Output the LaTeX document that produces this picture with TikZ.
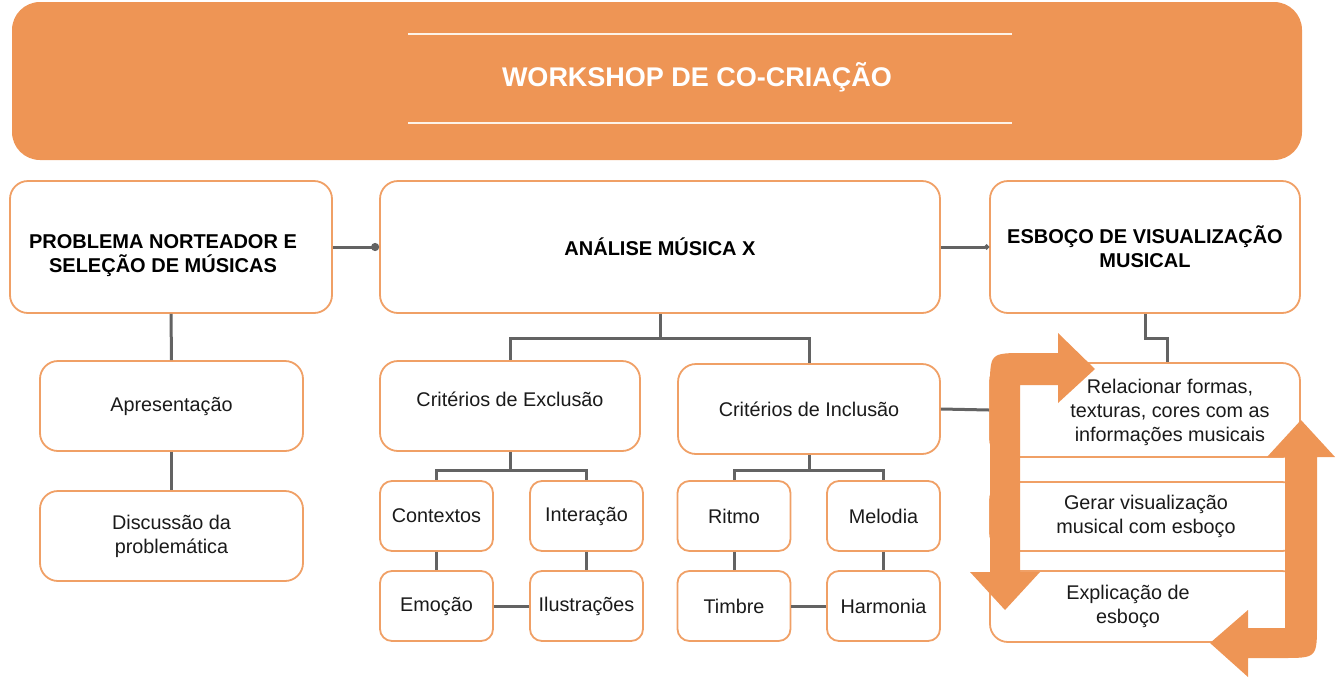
\documentclass[tikz,border=0pt]{standalone}
\usepackage{fontspec}
\setmainfont{Liberation Sans}
\usetikzlibrary{arrows.meta}
\definecolor{orA}{HTML}{EE9555}
\definecolor{boxor}{HTML}{F0A066}
\definecolor{gray6}{HTML}{636363}
\definecolor{txt}{HTML}{1A1A1A}
\definecolor{offw}{HTML}{FDF3E8}
\tikzset{
  regfont/.style={font=\fontsize{19.8}{24}\selectfont},
  box/.style={draw=boxor, line width=1.8pt, fill=white, rounded corners=18pt, align=center, inner sep=0pt, text=txt, regfont},
  sbox/.style={box, rounded corners=12pt, minimum width=113pt, minimum height=70pt},
  mbox/.style={box, minimum height=90pt},
  headfont/.style={font=\fontsize{20}{24}\selectfont\bfseries},
  head/.style={box, text=black, headfont, minimum height=132pt},
  pbox/.style={box, minimum width=310pt},
  lbl/.style={align=center, text=txt, regfont},
  conn/.style={draw=gray6, line width=3pt},
  bigarrow/.style={fill=orA, draw=none},
  deco/.style={draw=offw, line width=1.5pt},
}
\begin{document}
\begin{tikzpicture}[x=1pt, y=-1pt]
\useasboundingbox (0,0) rectangle (1336,678);
% title
\node[fill=orA, rounded corners=28pt, minimum width=1290pt, minimum height=158pt, inner sep=0pt,
  label={[xshift=40pt, yshift=4pt, text=white, font=\fontsize{27}{30}\selectfont\bfseries]center:WORKSHOP DE CO-CRIAÇÃO}] (title) at (657,81) {};
\draw[deco] (408,34) -- (1012,34);
\draw[deco] (408,123) -- (1012,123);
% top row
\node[head, minimum width=322pt, label={[xshift=-8pt, yshift=-9pt, align=center, text=black, headfont]center:PROBLEMA NORTEADOR E\\SELEÇÃO DE MÚSICAS}] (prob) at (171,247) {};
\node[head, minimum width=560pt] (anal) at (660,247) {ANÁLISE MÚSICA X};
\node[head, minimum width=310pt] (esb) at (1145,247) {ESBOÇO DE VISUALIZAÇÃO\\MUSICAL};
% left column
\node[mbox, minimum width=263pt] (apr) at (171.5,406) {Apresentação};
\node[mbox, minimum width=263pt] (disc) at (171.5,536) {Discussão da\\problemática};
% middle
\node[mbox, minimum width=260pt, label={[yshift=7pt, lbl]center:Critérios de Exclusão}] (excl) at (510,406) {};
\node[mbox, minimum width=262pt] (incl) at (809,409) {Critérios de Inclusão};
\node[sbox] (cont) at (436.5,516) {Contextos};
\node[sbox] (inter) at (586.5,516) {Interação};
\node[sbox] (emo) at (436.5,606) {Emoção};
\node[sbox] (ilus) at (586.5,606) {Ilustrações};
\node[sbox] (ritmo) at (734,516) {Ritmo};
\node[sbox] (melo) at (883.5,516) {Melodia};
\node[sbox] (timb) at (734,606) {Timbre};
\node[sbox] (harm) at (883.5,606) {Harmonia};
% right panel
\node[pbox, minimum height=94pt, label={[xshift=25pt, yshift=-2pt, lbl]center:Relacionar formas,\\texturas, cores com as\\informações musicais}] (rel) at (1145,410) {};
\node[pbox, minimum height=69pt, label={[xshift=1pt, lbl]center:Gerar visualização\\musical com esboço}] (gerar) at (1145,516.5) {};
\node[pbox, minimum height=71pt, label={[xshift=-17pt, lbl]center:Explicação de\\esboço}] (expl) at (1145,606.5) {};
% connectors
\draw[conn, -{Circle[length=8pt]}] (prob.east) -- (anal.west);
\draw[conn, -{Circle[length=5pt]}] (anal.east) -- (esb.west);
\draw[conn] (prob.south) -- (apr.north);
\draw[conn] (apr.south) -- (disc.north);
\draw[conn] (anal.south) -- ++(0,25) coordinate (a1);
\draw[conn] (a1) -| (excl.north);
\draw[conn] (a1) -| (incl.north);
\draw[conn] (excl.south) -- ++(0,19) coordinate (e1);
\draw[conn] (e1) -| (cont.north);
\draw[conn] (e1) -| (inter.north);
\draw[conn] (incl.south) -- ++(0,16) coordinate (i1);
\draw[conn] (i1) -| (ritmo.north);
\draw[conn] (i1) -| (melo.north);
\draw[conn] (cont.south) -- (emo.north);
\draw[conn] (inter.south) -- (ilus.north);
\draw[conn] (emo.east) -- (ilus.west);
\draw[conn] (ritmo.south) -- (timb.north);
\draw[conn] (melo.south) -- (harm.north);
\draw[conn] (timb.east) -- (harm.west);
\draw[conn] (incl.east) -- (rel.west);
\draw[conn] (esb.south) -- ++(0,25) -| ([xshift=22pt]rel.north);
% cycle arrows
\fill[bigarrow] (1005,610) -- (1040,572) -- (1020,572) -- (1020,385) -- (1058,385) -- (1058,403) -- (1095,369) -- (1058,333) -- (1058,353) -- (1025,353) .. controls (990,353) .. (990,388) -- (990,572) -- (970,572) -- cycle;
\fill[bigarrow] (1301,420) -- (1335,457) -- (1317,457) -- (1317,623) .. controls (1317,658) .. (1282,658) -- (1248,658) -- (1248,677) -- (1210,643) -- (1248,610) -- (1248,628) -- (1285,628) -- (1285,457) -- (1267,457) -- cycle;
\end{tikzpicture}
\end{document}
